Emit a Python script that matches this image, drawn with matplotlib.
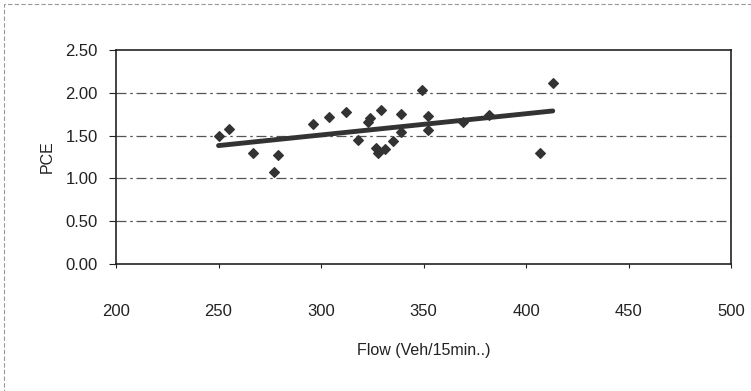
#!/usr/bin/env python3
import numpy as np
import matplotlib
matplotlib.use("Agg")
import matplotlib.pyplot as plt
from matplotlib.patches import Rectangle

plt.rcParams["font.family"] = ["Liberation Sans", "DejaVu Sans"]

# === DATA ===
flow = [250, 255, 267, 277, 279, 296, 304, 312, 318, 323, 324, 329, 327, 328,
        331, 335, 339, 339, 349, 352, 352, 369, 382, 407, 413]
pce = [1.50, 1.58, 1.30, 1.07, 1.27, 1.63, 1.72, 1.78, 1.45, 1.66, 1.70, 1.80,
       1.35, 1.30, 1.34, 1.44, 1.75, 1.54, 2.03, 1.73, 1.57, 1.66, 1.74, 1.30, 2.11]
x_ticks = [200, 250, 300, 350, 400, 450, 500]
y_ticks = [0.00, 0.50, 1.00, 1.50, 2.00, 2.50]

# linear trendline, as Excel draws it
slope, icpt = np.polyfit(flow, pce, 1)
tx = np.array([min(flow), max(flow)])

fig = plt.figure(figsize=(7.51, 3.91), dpi=100)
ax = fig.add_axes([0.1545, 0.3248, 0.819, 0.5473])

for y in y_ticks[1:-1]:
    ax.axhline(y, color="#555555", lw=0.9, ls=(0, (8, 3, 2, 3)), zorder=1)

ax.plot(tx, slope * tx + icpt, color="#333333", lw=3.5, solid_capstyle="round", zorder=2)
ax.scatter(flow, pce, marker="D", s=24, color="#333333", zorder=3)

ax.set_xlim(200, 500)
ax.set_ylim(0, 2.5)
ax.set_xticks(x_ticks)
ax.set_yticks(y_ticks)
ax.set_yticklabels([f"{v:.2f}" for v in y_ticks])
ax.tick_params(axis="x", direction="out", length=3, pad=26, labelsize=12, colors="#222222")
ax.tick_params(axis="y", direction="out", length=5, pad=8, labelsize=12, colors="#222222")
for s in ax.spines.values():
    s.set_color("#222222")
    s.set_linewidth(1.2)

ax.set_xlabel("Flow (Veh/15min..)", fontsize=11.5, labelpad=17, color="#222222")
ax.set_ylabel("PCE", fontsize=11.5, labelpad=8, color="#222222")

# faint outer chart frame from the scan
fig.patches.append(Rectangle((0.005, -0.05), 1.2, 1.04, transform=fig.transFigure,
                             fill=False, ec="#999999", lw=0.8, ls=(0, (4, 2))))

fig.savefig("out.png", dpi=100)
